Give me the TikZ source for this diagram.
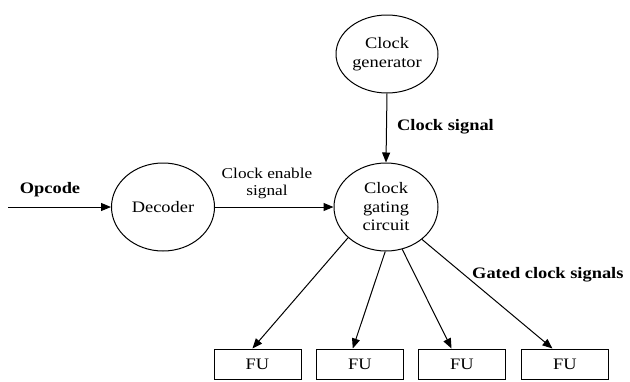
\documentclass[tikz,border=0pt]{standalone}
\usepackage{fontspec}
\setmainfont{Liberation Serif}[FakeStretch=1.15]
\usetikzlibrary{arrows.meta,shapes.geometric}
\begin{document}
\begin{tikzpicture}[x=1pt,y=-1pt,
  ell/.style={draw, ellipse, line width=1pt, inner sep=0pt, align=center,
    font=\fontsize{16}{18.5}\selectfont},
  fubox/.style={draw, rectangle, line width=1pt, minimum width=87pt, minimum height=30pt,
    inner sep=0pt, font=\fontsize{16}{17}\selectfont},
  arr/.style={line width=1pt, -{Triangle[length=10pt,width=8pt]}},
  lbl/.style={inner sep=0pt, align=center, font=\fontsize{15}{17}\selectfont},
  blbl/.style={inner sep=0pt, font=\fontsize{16}{19}\selectfont\bfseries}]
\useasboundingbox (0,0) rectangle (630,381);
\node[ell, minimum width=102pt, minimum height=78pt] (gen) at (387,54) {Clock\\generator};
\node[ell, minimum width=104pt, minimum height=88pt] (gate) at (386,207) {Clock\\gating\\circuit};
\node[ell, minimum width=103pt, minimum height=88pt] (dec) at (163,207) {Decoder};
\node[fubox] (fu1) at (257.5,364) {FU};
\node[fubox] (fu2) at (360,364) {FU};
\node[fubox] (fu3) at (462,364) {FU};
\node[fubox] (fu4) at (565,364) {FU};
\coordinate (op) at (8,207);
\node[blbl] (oplbl) at (50,190) {Opcode};
\node[lbl] (enlbl) at (267,183) {Clock enable\\signal};
\node[blbl, anchor=west] (cslbl) at (397,127) {Clock signal};
\node[blbl, anchor=west] (gclbl) at (472,275) {Gated clock signals};
\draw[arr] (op) -- (dec.west);
\draw[arr] (dec.east) -- (gate.west);
\draw[arr] (gen.south) -- (gate.north);
\draw[arr] (gate.219) -- (fu1.108);
\draw[arr] (gate.269) -- (fu2.115);
\draw[arr] (gate.291) -- (fu3.124);
\draw[arr] (gate.318) -- (fu4.129);
\end{tikzpicture}
\end{document}
